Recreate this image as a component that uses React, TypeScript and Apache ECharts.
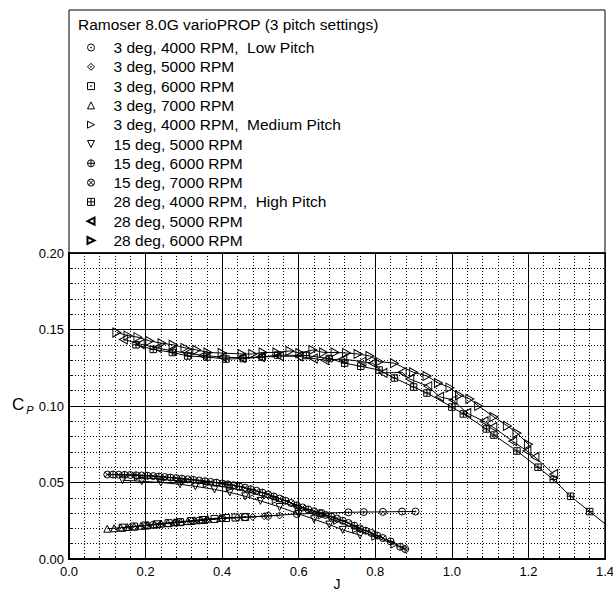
import React, { useEffect, useRef } from 'react';
import * as echarts from 'echarts';

const chartTitle = 'Ramoser 8.0G varioPROP (3 pitch settings)';
const xAxisTitle = 'J';
const xTicks = { min: 0, max: 1.4, step: 0.2 };
const yTicks = { min: 0, max: 0.2, step: 0.05 };

const seriesNames = [
  '3 deg, 4000 RPM,  Low Pitch',
  '3 deg, 5000 RPM',
  '3 deg, 6000 RPM',
  '3 deg, 7000 RPM',
  '3 deg, 4000 RPM,  Medium Pitch',
  '15 deg, 5000 RPM',
  '15 deg, 6000 RPM',
  '15 deg, 7000 RPM',
  '28 deg, 4000 RPM,  High Pitch',
  '28 deg, 5000 RPM',
  '28 deg, 6000 RPM',
];

const low4000 = [[0.22,0.0223],[0.28,0.0238],[0.34,0.0252],[0.40,0.0266],[0.46,0.0274],[0.52,0.0282],[0.595,0.0294],[0.66,0.0300],[0.73,0.0305],[0.77,0.0307],[0.82,0.0308],[0.87,0.0310],[0.905,0.0310]];
const low5000 = [[0.16,0.0209],[0.20,0.0219],[0.24,0.0229],[0.28,0.0238],[0.32,0.0248],[0.36,0.0257],[0.40,0.0265],[0.44,0.0270],[0.48,0.0275],[0.51,0.0280],[0.55,0.0285]];
const low6000 = [[0.14,0.0205],[0.17,0.0212],[0.20,0.0219],[0.23,0.0227],[0.26,0.0234],[0.29,0.0241],[0.32,0.0248],[0.35,0.0255],[0.38,0.0262],[0.41,0.0268],[0.435,0.0271],[0.46,0.0274]];
const low7000 = [[0.10,0.0198],[0.118,0.0201],[0.135,0.0205],[0.152,0.0209],[0.170,0.0213],[0.188,0.0217],[0.205,0.0221],[0.222,0.0226],[0.240,0.0231],[0.258,0.0236],[0.275,0.0240],[0.292,0.0244],[0.310,0.0248],[0.328,0.0253],[0.345,0.0258],[0.362,0.0263],[0.395,0.0268]];

const med4000 = [[0.18,0.0535],[0.24,0.0522],[0.30,0.0508],[0.36,0.0490],[0.42,0.0465],[0.48,0.0430],[0.54,0.0385],[0.60,0.0335],[0.66,0.0285],[0.70,0.0250],[0.75,0.0195],[0.80,0.0145],[0.85,0.0095]];
const med5000 = [[0.14,0.0515],[0.19,0.0508],[0.24,0.0500],[0.29,0.0488],[0.33,0.0475],[0.38,0.0455],[0.42,0.0435],[0.46,0.0410],[0.50,0.0380],[0.55,0.0340],[0.60,0.0295],[0.64,0.0260],[0.68,0.0225],[0.715,0.0190],[0.76,0.0155]];
const med6000 = [[0.115,0.0552],[0.145,0.0550],[0.175,0.0547],[0.205,0.0544],[0.235,0.0539],[0.265,0.0532],[0.295,0.0525],[0.325,0.0517],[0.355,0.0508],[0.385,0.0499],[0.415,0.0488],[0.445,0.0474],[0.475,0.0456],[0.505,0.0434],[0.535,0.0409],[0.565,0.0381],[0.595,0.0351],[0.625,0.0324],[0.655,0.0300],[0.685,0.0277],[0.715,0.0250],[0.745,0.0218],[0.775,0.0185],[0.805,0.0153],[0.84,0.0115],[0.865,0.0080],[0.878,0.0065]];
const med7000 = [[0.10,0.0552],[0.13,0.0551],[0.16,0.0549],[0.19,0.0546],[0.22,0.0542],[0.25,0.0536],[0.28,0.0529],[0.31,0.0521],[0.34,0.0513],[0.37,0.0504],[0.40,0.0494],[0.43,0.0482],[0.46,0.0466],[0.49,0.0446],[0.52,0.0422],[0.55,0.0395],[0.58,0.0366],[0.61,0.0337],[0.64,0.0312],[0.67,0.0288],[0.70,0.0265],[0.73,0.0235],[0.76,0.0200],[0.79,0.0170],[0.82,0.0137]];

const high4000 = [[0.175,0.140],[0.22,0.137],[0.27,0.135],[0.31,0.1327],[0.36,0.132],[0.41,0.1307],[0.455,0.131],[0.505,0.132],[0.545,0.1333],[0.62,0.133],[0.68,0.131],[0.72,0.128],[0.762,0.126],[0.81,0.1235],[0.85,0.1183],[0.90,0.1124],[0.935,0.1085],[1.0,0.0993],[1.03,0.0948],[1.09,0.085],[1.11,0.081],[1.17,0.0706],[1.225,0.060],[1.265,0.052],[1.31,0.041],[1.36,0.031],[1.42,0.019]];
const high5000 = [[0.142,0.1435],[0.186,0.1405],[0.23,0.138],[0.27,0.136],[0.31,0.1345],[0.35,0.133],[0.40,0.132],[0.45,0.1315],[0.50,0.132],[0.55,0.1325],[0.60,0.1325],[0.638,0.131],[0.668,0.130],[0.715,0.1307],[0.765,0.129],[0.793,0.128],[0.82,0.1216],[0.87,0.122],[0.89,0.1176],[0.937,0.113],[0.968,0.106],[1.003,0.104],[1.039,0.0954],[1.084,0.090],[1.107,0.0863],[1.159,0.077],[1.196,0.0706],[1.217,0.0667],[1.266,0.0555]];
const high6000 = [[0.125,0.148],[0.154,0.146],[0.18,0.145],[0.211,0.1425],[0.243,0.141],[0.272,0.140],[0.303,0.138],[0.334,0.1366],[0.363,0.135],[0.40,0.1346],[0.452,0.134],[0.48,0.134],[0.507,0.135],[0.543,0.135],[0.577,0.136],[0.603,0.1346],[0.637,0.1366],[0.665,0.135],[0.695,0.135],[0.725,0.1346],[0.755,0.134],[0.786,0.1327],[0.81,0.129],[0.85,0.128],[0.90,0.122],[0.935,0.1196],[0.965,0.115],[0.995,0.112],[1.02,0.107],[1.047,0.1046],[1.07,0.100],[1.11,0.0928],[1.145,0.087],[1.17,0.0823],[1.20,0.075]];

const seriesData = [low4000, low5000, low6000, low7000, med4000, med5000, med6000, med7000, high4000, high5000, high6000];

const CIRC = 'M0,5A5,5,0,1,1,10,5A5,5,0,1,1,0,5Z';
const DOT = 'M4.3,5A0.7,0.7,0,1,1,5.7,5A0.7,0.7,0,1,1,4.3,5Z';
const SQ = 'M0,0L10,0L10,10L0,10Z';
const PLUS = 'M5,0L5,10M0,5L10,5';
const symbols = [
  'path://' + CIRC + DOT,
  'path://M5,0L10,5L5,10L0,5Z' + DOT,
  'path://' + SQ + DOT,
  'path://M5,0L10,10L0,10Z',
  'path://M0,0L10,5L0,10Z',
  'path://M0,0L10,0L5,10Z',
  'path://' + CIRC + PLUS,
  'path://' + CIRC + 'M1.46,1.46L8.54,8.54M8.54,1.46L1.46,8.54',
  'path://' + SQ + PLUS,
  'path://M10,0L0,5L10,10Z',
  'path://M0,0L10,5L0,10Z',
];
const symbolSizes: any[] = [7, 7, 7, 7, 7, 7, 7, 7, 6.5, [8, 9], [8, 9]];
const legendBorder = [1, 1, 1, 1, 1, 1, 1, 1, 1, 2, 2];

const FONT = "'Liberation Sans', Arial, Helvetica, sans-serif";
const W = 613;
const H = 593;

export default function App() {
  const ref = useRef<HTMLDivElement>(null);
  useEffect(() => {
    if (!ref.current) return;
    const chart = echarts.init(ref.current, undefined, { renderer: 'svg', width: W, height: H });
    const series = seriesData.map((d, i) => ({
      type: 'line',
      name: seriesNames[i],
      data: d,
      symbol: symbols[i],
      symbolSize: symbolSizes[i],
      showAllSymbol: true,
      clip: true,
      silent: true,
      lineStyle: { color: '#000', width: 1 },
      itemStyle: { color: 'rgba(0,0,0,0)', borderColor: '#000', borderWidth: 1 },
      emphasis: { disabled: true },
    }));
    chart.setOption({
      animation: false,
      textStyle: { fontFamily: FONT },
      grid: {
        left: 69, width: 536, top: 253, height: 306,
        outerBoundsMode: 'none',
        containLabel: false,
        show: true, borderColor: '#000', borderWidth: 1.5, backgroundColor: 'rgba(0,0,0,0)',
      },
      legend: {
        orient: 'vertical',
        left: 86.5,
        top: 39.5,
        padding: 0,
        itemGap: 3.3,
        itemWidth: 7,
        itemHeight: 7,
        selectedMode: false,
        textStyle: { fontSize: 15.5, color: '#000', fontFamily: FONT, padding: [0, 0, 0, 14] },
        data: seriesNames.map((n, i) => ({
          name: n,
          icon: symbols[i],
          itemStyle: { color: 'rgba(0,0,0,0)', borderColor: '#000', borderWidth: legendBorder[i] },
        })),
      },
      xAxis: {
        type: 'value',
        min: xTicks.min, max: xTicks.max, interval: xTicks.step,
        axisLine: { show: true, lineStyle: { color: '#000', width: 2 } },
        axisTick: { show: true, inside: true, length: 4, lineStyle: { color: '#000' } },
        minorTick: { show: true, splitNumber: 5, length: 3, lineStyle: { color: '#000' } },
        axisLabel: { fontSize: 13, color: '#000', margin: 6, formatter: (v: number) => v.toFixed(1) },
        splitLine: { show: true, lineStyle: { color: '#000', width: 1 } },
        minorSplitLine: { show: true, lineStyle: { color: '#000', width: 1, type: [1, 2] } },
      },
      yAxis: {
        type: 'value',
        min: yTicks.min, max: yTicks.max, interval: yTicks.step,
        axisLine: { show: true, lineStyle: { color: '#000', width: 2 } },
        axisTick: { show: true, inside: true, length: 4, lineStyle: { color: '#000' } },
        minorTick: { show: true, splitNumber: 5, length: 3, lineStyle: { color: '#000' } },
        axisLabel: { fontSize: 13, color: '#000', margin: 5, formatter: (v: number) => v.toFixed(2) },
        splitLine: { show: true, lineStyle: { color: '#000', width: 1 } },
        minorSplitLine: { show: true, lineStyle: { color: '#000', width: 1, type: [1, 2] } },
      },
      graphic: [
        {
          type: 'rect',
          shape: { x: 69, y: 10, width: 536, height: 243 },
          style: { fill: 'none', stroke: '#000', lineWidth: 1 },
          silent: true,
        },
        {
          type: 'text',
          x: 78, y: 24,
          style: { text: chartTitle, fontSize: 15.5, fill: '#000', fontFamily: FONT, verticalAlign: 'middle' },
          silent: true,
        },
        {
          type: 'text',
          x: 337, y: 584,
          style: { text: xAxisTitle, fontSize: 14, fill: '#000', fontFamily: FONT, align: 'center', verticalAlign: 'middle' },
          silent: true,
        },
        {
          type: 'text',
          x: 12, y: 404,
          style: {
            text: '{c|C}{p|P}',
            verticalAlign: 'middle',
            rich: {
              c: { fontSize: 17, fill: '#000', fontFamily: FONT, lineHeight: 22, verticalAlign: 'middle' },
              p: { fontSize: 11, fill: '#000', fontFamily: FONT, fontStyle: 'italic', lineHeight: 22, verticalAlign: 'bottom', padding: [0, 0, 0, 2] },
            },
          },
          silent: true,
        },
      ],
      series,
    });
    return () => chart.dispose();
  }, []);
  return <div ref={ref} style={{ width: W, height: H, position: 'absolute', left: 0, top: 0, background: '#fff' }} />;
}
